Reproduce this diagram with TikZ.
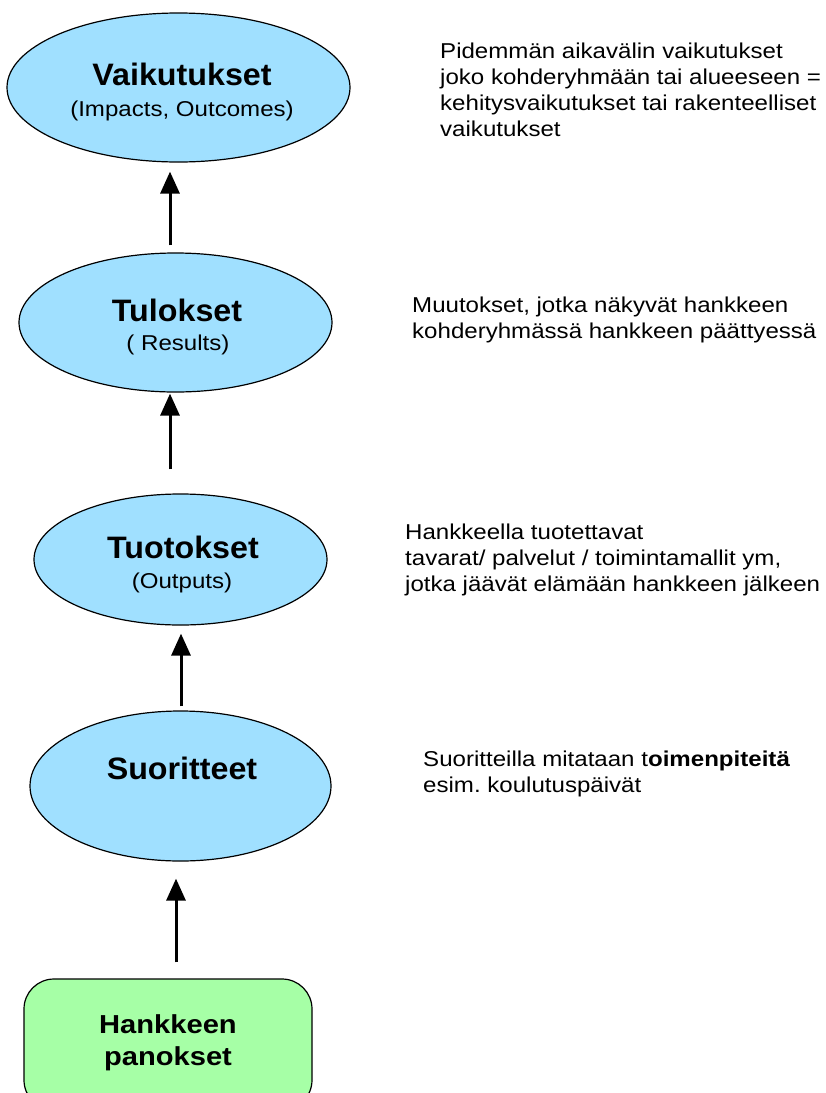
\documentclass[tikz,border=0pt]{standalone}
\usepackage{fontspec}
\setmainfont{Liberation Sans}[FakeStretch=1.12]
\newfontfamily\titlefont{Liberation Sans}[FakeStretch=1.04]
\usetikzlibrary{arrows.meta,shapes.geometric}
\definecolor{bubble}{HTML}{A0E0FF}
\definecolor{inputbox}{HTML}{A6FFA6}
\frenchspacing

\begin{document}
\begin{tikzpicture}[x=1pt,y=-1pt,
  stage/.style={ellipse, draw=black, line width=1.2pt, fill=bubble, inner sep=0pt},
  inputstage/.style={rectangle, draw=black, line width=1.2pt, fill=inputbox, rounded corners=30pt, inner sep=0pt},
  title/.style={anchor=base, inner sep=0pt, font=\titlefont\fontsize{31}{36}\selectfont\bfseries},
  sub/.style={anchor=base, inner sep=0pt, font=\fontsize{21.5}{26}\selectfont},
  boxtitle/.style={anchor=base, inner sep=0pt, font=\fontsize{26}{32}\selectfont\bfseries},
  note/.style={anchor=north west, inner sep=0pt, align=left, font=\fontsize{21.5}{26}\selectfont},
  up/.style={line width=3pt, -{Triangle[length=22pt,width=19pt]}}]

\clip (0,0) rectangle (826,1093);

% the chain of stages
\node[stage, minimum width=343pt, minimum height=149pt] (e1) at (178.5,87.5) {};
\node[stage, minimum width=313pt, minimum height=139pt] (e2) at (175.5,322.5) {};
\node[stage, minimum width=293pt, minimum height=131pt] (e3) at (180.5,559.5) {};
\node[stage, minimum width=301pt, minimum height=150pt] (e4) at (180.5,786) {};
\node[inputstage, minimum width=288pt, minimum height=131pt] (inp) at (168,1044.5) {};

% stage labels
\node[title] (t1) at (182,85) {Vaikutukset};
\node[sub] (s1) at (182,116) {(Impacts, Outcomes)};
\node[title] (t2) at (177,321) {Tulokset};
\node[sub] (s2) at (178,350) {( Results)};
\node[title] (t3) at (183,558) {Tuotokset};
\node[sub] (s3) at (182,588) {(Outputs)};
\node[title] (t4) at (182,779) {Suoritteet};
\node[boxtitle] (h1) at (168,1033) {Hankkeen};
\node[boxtitle] (h2) at (168,1065) {panokset};

% explanations on the right
\node[note] (n1) at (440,42.8) {Pidemmän aikavälin vaikutukset\\joko kohderyhmään tai alueeseen =\\kehitysvaikutukset tai rakenteelliset\\vaikutukset};
\node[note] (n2) at (412,296.3) {Muutokset, jotka näkyvät hankkeen\\kohderyhmässä hankkeen päättyessä};
\node[note] (n3) at (405,523.3) {Hankkeella tuotettavat\\tavarat/ palvelut / toimintamallit ym,\\jotka jäävät elämään hankkeen jälkeen};
\node[note] (n4) at (423,750.3) {Suoritteilla mitataan t\textbf{oimenpiteitä}\\esim.\ koulutuspäivät};

% arrow columns
\coordinate (c1) at (170,0);
\coordinate (c2) at (170,0);
\coordinate (c3) at (181,0);
\coordinate (c4) at (176,0);

\draw[up, shorten <=7pt, shorten >=9pt] (e2.north -| c1) -- (e1.south -| c1);
\draw[up, shorten <=24pt, shorten >=1pt] (e3.north -| c2) -- (e2.south -| c2);
\draw[up, shorten <=4pt, shorten >=8pt] (e4.north -| c3) -- (e3.south -| c3);
\draw[up, shorten <=16pt, shorten >=17pt] (inp.north -| c4) -- (e4.south -| c4);
\end{tikzpicture}
\end{document}
